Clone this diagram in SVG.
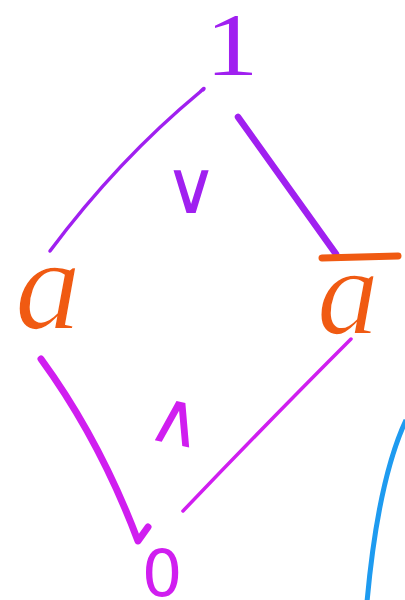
<svg xmlns="http://www.w3.org/2000/svg" width="405" height="600" viewBox="0 0 405 600">
<style>
.bg{fill:#ffffff}
.purple{fill:#a020f0}
.orange{fill:#f05a12}
.magenta{fill:#d01ef0}
.thin{stroke:#ffffff;stroke-width:1.5}
.edge{fill:none;stroke-linecap:round;stroke-linejoin:round}
.serif{font-family:"Liberation Serif","DejaVu Serif",serif}
.sans{font-family:"DejaVu Sans","Liberation Sans",sans-serif}
</style>
<rect class="bg" x="0" y="0" width="405" height="600"/>
<g id="connectors">
  <path class="edge" d="M 50 251 Q 118 160 200 92 Q 206 86 203 90" stroke="#a020f0" stroke-width="3.5"/>
  <path class="edge" d="M 238 117 L 336 254" stroke="#a020f0" stroke-width="6.5"/>
  <path class="edge" d="M 41 359 Q 100 440 138 541 L 148 527" stroke="#d01ef0" stroke-width="7"/>
  <path class="edge" d="M 351 339 Q 270 420 183 511" stroke="#d01ef0" stroke-width="3.5"/>
</g>
<g id="node-top">
  <text class="serif purple" x="0" y="0" text-anchor="middle" font-size="88" transform="translate(232 74) scale(1.2 1)">1</text>
</g>
<g id="node-a">
  <text class="serif orange thin" x="48" y="329" text-anchor="middle" font-size="132" font-style="italic">a</text>
</g>
<g id="node-not-a">
  <path d="M 322 258 L 398 256" stroke="#f05a12" stroke-width="7" stroke-linecap="round" fill="none"/>
  <text class="serif orange thin" x="348" y="334" text-anchor="middle" font-size="124" font-style="italic">a</text>
</g>
<g id="node-bottom">
  <text class="sans magenta" x="162" y="596" text-anchor="middle" font-size="64" font-family="Liberation Sans">0</text>
</g>
<g id="op-join">
  <text class="sans purple" x="191" y="213" text-anchor="middle" font-size="74">∨</text>
</g>
<g id="op-meet">
  <text class="sans magenta" x="0" y="0" text-anchor="middle" font-size="74" transform="translate(172 444) rotate(12)">∧</text>
</g>
<path d="M 406 420 Q 378 480 367 602" fill="none" stroke="#1e9bf0" stroke-width="5"/>
</svg>
